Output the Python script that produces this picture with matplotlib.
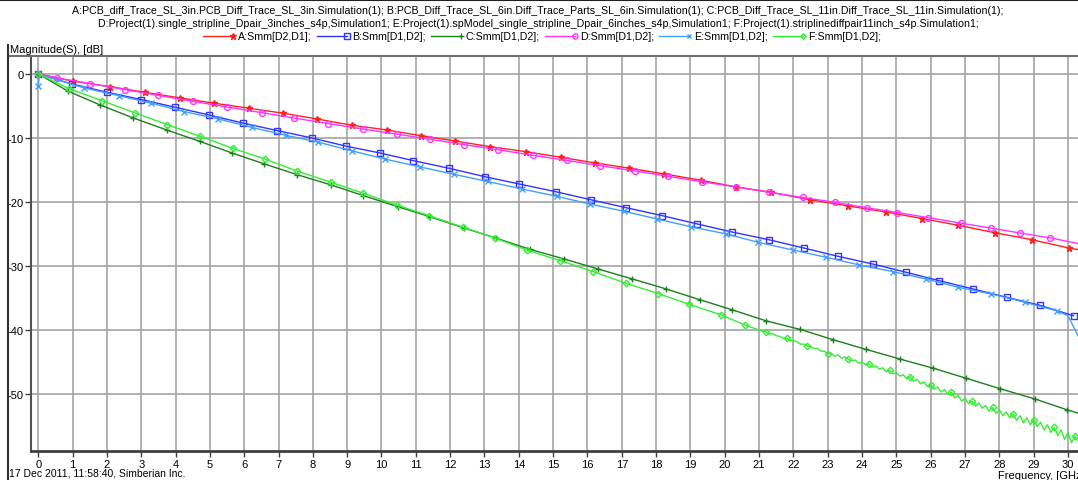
import matplotlib
matplotlib.use("Agg")
import matplotlib.pyplot as plt
from matplotlib.lines import Line2D

plt.rcParams['font.family'] = ['Liberation Sans', 'DejaVu Sans']
plt.rcParams['axes.unicode_minus'] = False

W, H = 1078, 481

# --- Smm curves, frequency in GHz, magnitude in dB ---
A_freq = [0, 1.02, 2.09, 3.1, 4.13, 5.13, 6.14, 7.14, 8.11, 9.13, 10.15, 11.14, 12.14, 13.16,
          14.2, 15.22, 16.22, 17.22, 18.23, 19.3, 20.34, 21.34, 22.48, 23.6, 24.69, 25.76,
          26.8, 27.86, 28.94, 30.02, 30.3]
A_db = [0, -1.14, -1.98, -2.86, -3.75, -4.58, -5.36, -6.14, -7.03, -8.0, -8.75, -9.64, -10.47,
        -11.36, -12.14, -13.02, -13.9, -14.73, -15.62, -16.6, -17.66, -18.48, -19.64, -20.63,
        -21.56, -22.6, -23.64, -24.8, -25.89, -27.19, -27.45]

B_freq = [0, 0.97, 2.0, 3.0, 3.98, 4.97, 5.98, 6.97, 7.97, 8.98, 9.95, 10.93, 11.96, 13.01,
          14.01, 15.07, 16.09, 17.12, 18.18, 19.2, 20.22, 21.28, 22.3, 23.29, 24.31, 25.28,
          26.25, 27.24, 28.21, 29.18, 30.16]
B_db = [0, -1.56, -2.86, -4.0, -5.2, -6.4, -7.7, -8.86, -10.0, -11.3, -12.34, -13.55, -14.73,
        -16.05, -17.19, -18.39, -19.64, -20.89, -22.14, -23.44, -24.7, -25.89, -27.19, -28.48,
        -29.69, -30.98, -32.3, -33.6, -34.89, -36.14, -37.77]

C_freq = [0, 0.87, 1.8, 2.77, 3.74, 4.7, 5.64, 6.59, 7.54, 8.53, 9.47, 10.47, 11.41, 12.4,
          13.35, 14.32, 15.32, 16.31, 17.31, 18.3, 19.27, 20.22, 21.19, 22.19, 23.16, 24.11,
          25.1, 26.08, 27.04, 28.02, 29.04, 29.96, 30.3]
C_db = [0, -2.7, -4.84, -6.88, -8.75, -10.52, -12.34, -14.06, -15.73, -17.34, -19.0, -20.73,
        -22.3, -24.06, -25.67, -27.39, -28.9, -30.47, -32.03, -33.6, -35.27, -36.85, -38.55,
        -39.9, -41.52, -43.02, -44.53, -45.98, -47.55, -49.17, -50.78, -52.45, -53.0]

D_freq = [0, 0.54, 1.51, 2.53, 3.5, 4.52, 5.49, 6.51, 7.46, 8.45, 9.45, 10.44, 11.41, 12.41,
          13.4, 14.4, 15.39, 16.38, 17.38, 18.36, 19.34, 20.32, 21.3, 22.27, 23.21, 24.13,
          25.03, 25.93, 26.87, 27.77, 28.6, 29.47, 30.3]
D_db = [0, -0.63, -1.5, -2.45, -3.35, -4.3, -5.15, -6.05, -6.9, -7.75, -8.6, -9.4, -10.2,
        -11.05, -11.85, -12.7, -13.5, -14.35, -15.15, -16.0, -16.85, -17.65, -18.5, -19.3,
        -20.05, -20.9, -21.65, -22.45, -23.3, -24.1, -24.85, -25.6, -26.5]

E_freq = [0, 0.04, 1.34, 2.34, 3.3, 4.26, 5.25, 6.22, 7.22, 8.16, 9.13, 10.1, 11.13, 12.1,
          13.09, 14.09, 15.1, 16.06, 17.06, 18.03, 19.03, 20.05, 20.97, 21.98, 22.95, 23.92,
          24.91, 25.86, 26.8, 27.77, 28.74, 29.67, 30.0, 30.3]
E_db = [-1.9, -0.1, -2.19, -3.39, -4.58, -5.9, -7.03, -8.35, -9.6, -10.67, -12.0, -13.3,
        -14.53, -15.67, -16.8, -17.97, -19.1, -20.31, -21.45, -22.66, -23.9, -25.0, -26.3,
        -27.5, -28.64, -29.84, -30.89, -32.03, -33.33, -34.38, -35.67, -37.0, -37.77, -41.0]

F_freq = [0, 0.9, 1.85, 2.82, 3.76, 4.71, 5.66, 6.6, 7.55, 8.52, 9.47, 10.44, 11.38, 12.38,
          13.3, 14.23, 15.21, 16.17, 17.12, 18.06, 18.97, 19.88, 20.59,
          21.0, 21.1, 21.2, 21.3, 21.4, 21.5, 21.6, 21.7, 21.8, 21.9,
          22.0, 22.1, 22.2, 22.3, 22.4, 22.5, 22.6, 22.7, 22.8, 22.9,
          23.0, 23.1, 23.2, 23.3, 23.4, 23.5, 23.6, 23.7, 23.8, 23.9,
          24.0, 24.1, 24.2, 24.3, 24.4, 24.5, 24.6, 24.7, 24.8, 24.9,
          25.0, 25.1, 25.2, 25.3, 25.4, 25.5, 25.6, 25.7, 25.8, 25.9,
          26.0, 26.1, 26.2, 26.3, 26.4, 26.5, 26.6, 26.7, 26.8, 26.9,
          27.0, 27.1, 27.2, 27.3, 27.4, 27.5, 27.6, 27.7, 27.8, 27.9,
          28.0, 28.1, 28.2, 28.3, 28.4, 28.5, 28.6, 28.7, 28.8, 28.9,
          29.0, 29.1, 29.2, 29.3, 29.4, 29.5, 29.6, 29.7, 29.8, 29.9,
          30.0, 30.1, 30.2, 30.3]
F_db = [0, -2.3, -4.17, -6.09, -7.92, -9.73, -11.61, -13.28, -15.2, -16.9, -18.64, -20.47,
        -22.14, -23.95, -25.63, -27.5, -29.17, -30.89, -32.7, -34.3, -36.0, -37.61, -39.22,
        -40.0, -40.2, -40.3, -40.6, -40.6, -40.9, -41.0, -41.3, -41.3, -41.6,
        -41.7, -41.8, -42.2, -42.2, -42.5, -42.6, -42.9, -42.9, -43.3, -43.3,
        -43.7, -43.6, -44.1, -43.9, -44.4, -44.2, -44.6, -44.8, -44.7, -45.2,
        -45.0, -45.4, -45.3, -45.8, -45.6, -46.1, -45.9, -46.5, -46.3, -46.8,
        -46.7, -47.2, -47.0, -47.6, -47.3, -48.0, -47.7, -48.4, -48.1, -48.8,
        -48.6, -49.2, -48.9, -49.7, -49.3, -50.1, -49.7, -50.6, -50.2, -51.1,
        -50.7, -51.5, -51.1, -51.9, -51.4, -52.2, -51.8, -52.7, -52.1, -53.0,
        -52.5, -53.4, -52.8, -53.7, -53.1, -54.1, -53.4, -54.5, -53.7, -54.8,
        -54.0, -55.1, -54.4, -55.6, -54.8, -56.0, -55.2, -56.5, -55.6, -57.1,
        -56.0, -57.6, -56.6, -57.4]

header_lines = [
    "A:PCB_diff_Trace_SL_3in.PCB_Diff_Trace_SL_3in.Simulation(1); "
    "B:PCB_Diff_Trace_SL_6in.Diff_Trace_Parts_SL_6in.Simulation(1); "
    "C:PCB_Diff_Trace_SL_11in.Diff_Trace_SL_11in.Simulation(1);",
    "D:Project(1).single_stripline_Dpair_3inches_s4p,Simulation1; "
    "E:Project(1).spModel_single_stripline_Dpair_6inches_s4p,Simulation1; "
    "F:Project(1).striplinediffpair11inch_s4p.Simulation1;",
]
legend_labels = ["A:Smm[D2,D1];", "B:Smm[D1,D2];", "C:Smm[D1,D2];",
                 "D:Smm[D1,D2];", "E:Smm[D1,D2];", "F:Smm[D1,D2];"]

# per-curve look: colour, marker, marker size, filled marker
styles = [
    ('#ff2020', '*', 5, True),
    ('#3333ff', 's', 4.2, False),
    ('#1e7f1e', '+', 5, True),
    ('#ff33ff', 'o', 4.2, False),
    ('#3fa0ff', 'x', 4, True),
    ('#33ee33', 'D', 3.3, False),
]


def fx(px):
    return px / W


def fy(py):
    return 1 - py / H


fig = plt.figure(figsize=(W / 100, H / 100), dpi=100)
ax = fig.add_axes([fx(31), fy(452), 1 - fx(31), fy(57) - fy(452)])

# dense section of F starts at index 23; put a marker every 6 samples there
f_marks = list(range(23)) + list(range(25, len(F_freq) - 1, 6))
series = [
    (A_freq, A_db, list(range(len(A_freq) - 1))),
    (B_freq, B_db, list(range(len(B_freq)))),
    (C_freq, C_db, list(range(len(C_freq) - 1))),
    (D_freq, D_db, list(range(len(D_freq) - 1))),
    (E_freq, E_db, [0] + list(range(2, len(E_freq) - 2))),
    (F_freq, F_db, f_marks),
]
for (xs, ys, every), (col, mk, ms, filled) in zip(series, styles):
    ax.plot(xs, ys, color=col, lw=1.0, marker=mk, ms=ms, markevery=every,
            mfc=col if filled else 'none', mec=col, mew=1.0)

ax.set_xlim(-0.21, 30.29)
ax.set_ylim(-58.9, 2.8)
ax.set_xticks(range(0, 31))
ax.set_yticks([-50, -40, -30, -20, -10, 0])
ax.grid(True, color='#a4a4a4', lw=1.2)
ax.set_axisbelow(True)
for side in ('top', 'right'):
    ax.spines[side].set_visible(False)
ax.spines['left'].set_color('#505050')
ax.spines['left'].set_linewidth(1.5)
ax.spines['bottom'].set_color('#404040')
ax.spines['bottom'].set_linewidth(2)
ax.tick_params(direction='out', length=4, width=1, color='#404040',
               labelsize=8, pad=1.5)

# header with file names and legend row
for i, line in enumerate(header_lines):
    fig.text(fx(538), fy(11 + 13 * i), line, ha='center', va='center', fontsize=7.7)

for i, (lab, (col, mk, ms, filled)) in enumerate(zip(legend_labels, styles)):
    x0 = 203 + 114 * i
    fig.add_artist(Line2D([fx(x0), fx(x0 + 30)], [fy(37), fy(37)], color=col, lw=1.0))
    fig.add_artist(Line2D([fx(x0 + 30)], [fy(37)], color=col, marker=mk, ms=ms - 0.5,
                          mfc=col if filled else 'none', mec=col, mew=1.0))
    fig.text(fx(x0 + 35), fy(37), lab, ha='left', va='center', fontsize=7.7)

# panel borders
fig.add_artist(Line2D([0, 1], [fy(0.8), fy(0.8)], color='#202020', lw=1.5))
fig.add_artist(Line2D([fx(8), 1], [fy(57), fy(57)], color='#707070', lw=1.5))
fig.add_artist(Line2D([fx(7.5), fx(7.5)], [fy(46), 0], color='#303030', lw=1.5))

fig.text(fx(10), fy(50), "Magnitude(S), [dB]", ha='left', va='center', fontsize=8)
fig.text(fx(9), fy(474), "17 Dec 2011, 11:58:40, Simberian Inc.", ha='left',
         va='center', fontsize=7.5)
fig.text(fx(998), fy(476), "Frequency, [GHz]", ha='left', va='center', fontsize=8)

fig.savefig("out.png", dpi=100)
